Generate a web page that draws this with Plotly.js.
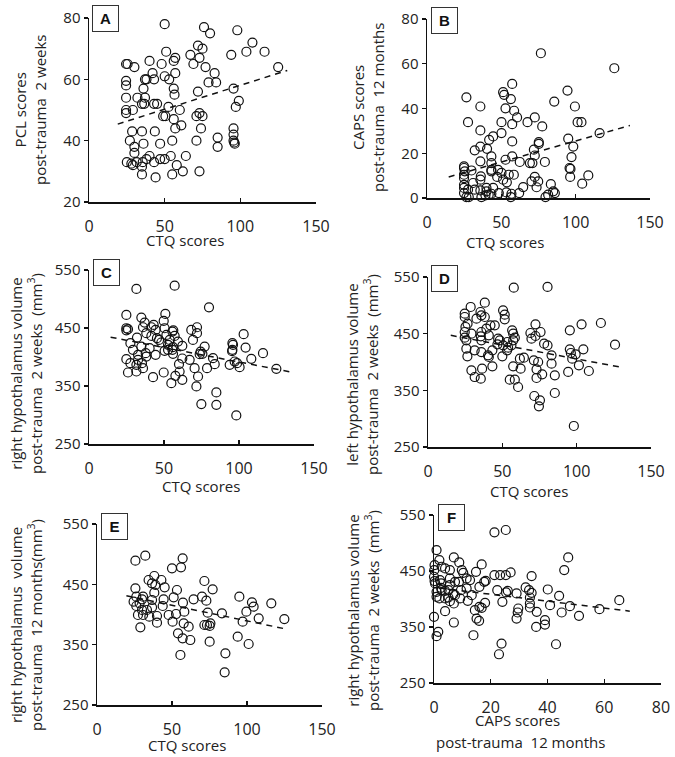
<!DOCTYPE html>
<html>
<head>
<meta charset="utf-8">
<script src="https://cdn.plot.ly/plotly-3.0.1.min.js"></script>
<style>
  body { margin: 0; background: #fff; }
  #myDiv { width: 675px; height: 757px; }
</style>
</head>
<body>
<div id="myDiv"></div>
<script>
// A: CTQ vs PCL
var aX = [50,76,80,98,108,104,116,94,125,72,75,67,69,73,51,57,56,48,40,30,24.5,25.5,77,83,42,50,57,53,38,37,43,79,84,24.5,24.5,36,56,56.5,72,95.5,99,97,24.5,32,37,35,36.5,43,45,52.5,60,24.5,29,24.5,49,50.5,56,71,73,75,61,57,74,95.5,95.5,28.5,35,43.5,95.5,96,96.3,85,85,27,36,47,55,71,30,30,25,28,29,31.5,35.5,38,40,43,47,50,54,64,58,35,35,44,55,62,73];
var aY = [78,77,75,76,72,69,69,68,64,71,70,68,65,67,69,67,66,65,66,64,65,65,64,62,62,61,62,60,60,60,60,59,59,59.5,58,57,57,55,56,57,53,51,54,54,54,52,52,52,52,51,50,50,50,49,48,48,47,48,49,48,45,44,44,44,42,43,43,43,40,39.4,39,41,38,40,39,39,40,40,38,36,33,32.5,32,33,33,34,35,33,34,34,35,35,32,31.5,29,28,29,30,30];
var aFitX = [19, 131];
var aFitY = [45.4, 62.9];

// B: CTQ vs CAPS
var bX = [76.6,126,26.5,35.9,27.6,35.9,51.2,51.9,57.3,56.4,52.8,58.6,60.6,57.3,50.1,67.6,72.5,77.5,85.6,94.5,99.5,101.3,103.9,116.1,95,98.4,97.2,95.9,96.5,96.3,104.4,108.5,75.2,75.2,71.9,72.5,57.3,50.1,44.5,41.8,35.9,32.1,40.4,43.3,35.9,57.3,62.4,52.8,69.2,70.9,79.3,43.3,24.9,24.9,29.9,43.3,43.3,47.8,50.1,55,24.9,24.9,36.2,35.9,47.2,51.2,53.7,72.5,74.8,70.3,64.7,73.7,83.3,31,24.9,24.9,27.6,32.1,35.9,40,40,44.5,43.3,48.3,53.4,56.8,62,24.9,26.5,28.1,36.6,39.3,41.5,56.4,79.7,81.5,86,84.9,58.4,25.4];
var bY = [64.7,58,45,40.9,33.9,30.2,47.3,46.1,51,44.2,40.1,39,36,33,33.9,33.9,36,32,43.1,48,40.9,33.9,33.9,29,26.5,23,18.3,13.4,13,9.4,6.4,10.1,25,24.2,21.6,19,25.3,29,27.5,26,23,21.3,22,18.6,16.4,18.6,16.1,17.1,15.6,15.6,16.1,15.6,14.1,13.4,12.3,12.6,11.9,12.6,11.2,10.4,10.4,8.9,9.7,8.2,9.4,8.2,7,9.4,7.4,7.4,4.9,4.8,6.2,6.7,5.9,4.5,3.7,3.7,3.4,3,4.5,4.5,1.9,2.2,2.5,1.9,2.2,2.2,0.4,0.4,0.4,1.2,1.5,0.4,0.4,1.5,2.2,3,10.4,11.9];
var bFitX = [14.6, 136.5];
var bFitY = [9.4, 32.4];

// C: CTQ vs right hypothalamus, 2 weeks
var cX = [31.6,57.1,80,24.9,50.9,34.9,49.8,37.1,43.1,24.9,26,24.9,50.4,55.6,56.2,68.2,72,72,69.3,103.1,95.6,96,95.6,95.4,104.4,116,108.2,124.9,93.8,98.7,100.4,97.1,77.1,74.4,75.6,82.7,83.8,78.7,70.4,72.7,71.6,74.9,84.9,84.9,98.2,67.1,62.2,60,60.4,62.2,57.6,54.9,49.8,42.7,55.6,52.7,46.7,45.3,48.2,53.8,59.3,62.2,52.7,56,50.4,40.4,37.8,38.2,44.4,32.7,32.7,29.3,27.6,32,38.2,41.6,36,24.9,27.6,31.6,35.3,36,26,31.6,34.9,44.4,41.6,51.6,57.1,56,73.8];
var cY = [517.3,523,485.7,472.5,474.3,468,462.2,459.4,455.3,449.6,448,446,449.6,443.9,446,446.7,451.3,441,429.5,439.3,423.8,421,412.3,410,416.3,406.6,396.8,379.6,386.5,389.4,382.5,392.2,418,409.4,405.4,398,387.6,380.8,380.8,366.4,349.2,318.8,338.9,317.6,299.3,395.1,397.4,387.6,375,360.7,367.6,354.9,373.3,365.3,412.3,420.9,429.5,432.4,425,429.5,426.6,419.2,412.3,405.4,410.6,415.2,406.6,400.8,403.7,403.7,395.1,412.3,423.8,433.5,441,436.4,451.3,396.2,389.4,386.5,389.4,380.8,373.3,375,418,446.7,451.3,438.1,436.4,416.9,404.8];
var cFitX = [14.4, 135.1];
var cFitY = [434.1, 373.9];

// D: CTQ vs left hypothalamus, 2 weeks
var dX = [57.7,80.4,38.2,28.7,50.5,51.6,51.6,35.3,24.7,24.7,32.6,38.2,35.9,42,44.9,25.2,26.6,39.3,24.7,29.2,35.9,35.5,24.7,25.8,35.9,40.9,25.8,26.5,31.4,35.9,40.4,40.9,43.3,46.7,47.2,48.3,50.5,50,53.2,56.1,57.3,56.6,57.3,58.4,53.9,61.8,64.5,62.3,57.3,55,58.4,60.6,69.6,72.3,68.9,72.3,75.7,78.1,80.4,71.2,74.1,73,73,76.8,83.1,83.1,85.3,85.3,71.5,75.3,74.6,95.4,103.3,116.3,125.8,104.5,95.4,96.1,99.3,97,101.5,108.2,94.3,98.1,29.2,31.4,35.5,36.4,43.3,53.4];
var dY = [531.2,532.4,504.7,497.1,491.2,483.5,475.3,488.2,485.3,479.4,476.5,479.4,482.4,464.7,464.7,461.8,467.6,458.8,452.9,450,452.9,445.3,442.9,438.2,438.2,447.1,423.5,410,420.6,417.6,411.8,408.8,420.6,431.2,441.2,438.2,429.4,410,420.6,429.4,438.2,455.9,450,442.9,425.3,405.9,407.6,388.2,392.4,368.8,368.8,355.9,441.2,466.5,451.2,445.9,452.9,432.4,429.4,402.9,400,387.1,371.8,378.2,411.8,397.1,376.5,345.3,340,332.4,321.8,455.9,466.5,468.8,430.6,422.4,422.4,415.9,413.5,405.9,394.1,384.1,382.4,287.1,385.3,373.5,370.6,388.2,392.4,435.3];
var dFitX = [15.3, 131.4];
var dFitY = [447.1, 390];

// E: CTQ vs right hypothalamus, 12 months
var eX = [32.2,25.6,57.1,50,56,34.4,38.2,36.7,38.9,42.9,45.1,25.6,38.2,53.3,71.6,77.1,70,72.9,64.4,51.1,44.4,57.3,94.9,103.3,104.4,116.2,99.6,107.8,124.9,97.1,83.3,73.8,71.6,73.3,75.1,75.6,75.1,93.8,101.1,85.6,85.1,55.6,57.1,62.2,61.1,57.8,54,58.2,52.7,50.4,47.8,40,40,43.8,36.7,36.7,33.3,34.9,30.7,26.2,24.4,26.2,30,28.4,30,30.7,27.3,28.9];
var eY = [497.5,489.2,493.1,476.5,478.2,457.2,463.8,451.7,448.9,457.2,445,443.4,436.2,440.6,455.5,441.7,429.6,422.9,425.1,428.5,425.1,419.6,429.6,420.2,413,418.5,404.7,393.6,392.5,388.1,401.9,403,382.6,382.6,381,385.3,355,363.3,351.1,335.6,304.1,332.9,360.5,357.7,379.8,385.4,368.8,404.7,400.8,388.1,399.2,386.5,397.5,414.1,411.9,424,407.5,396.4,429.6,429.6,421.3,414.1,425.1,418.5,407.5,399.2,399.2,378.7];
var eFitX = [19.6, 127.1];
var eFitY = [431.2, 375.4];

// F: CAPS vs right hypothalamus, 2 weeks
var fX = [21.3,25.3,47.3,0.9,1.9,7,8.9,16.8,0.2,0.1,2.7,3.9,5.6,9.8,10.3,14.8,0,0.2,2.1,2.5,5.6,5.6,7.4,8.8,11.5,12.7,17.7,18.2,21.3,23.3,25.3,27,22.3,25.4,26,16,13.3,11.5,3.9,2.7,0.9,1.9,3.9,5.1,5.6,7.4,9.2,11.9,9.5,3.9,7,18,24.1,29.1,32.3,33.5,34.4,33.8,34.4,33.8,33.8,29.7,29.5,29.1,36.2,36,39.1,39.1,40.1,40.9,44.1,45,47.9,45.9,51.1,58.3,65.3,14.4,15,15.9,13.9,16,16.8,23.8,22.9,43,0,1.5,0.9,7,0.4,2.5,5.1,6.8,0.9];
var fY = [519,523.2,474.3,487.4,469.5,474.3,465.3,461.7,460.6,451.6,457.6,454.6,451.6,451.6,446.8,448.6,439.7,432,433.8,427.8,436.7,424.8,430.7,430.7,436.7,433.8,430.7,432.5,442.7,442.7,442.7,447.4,415.8,411.7,414.6,421.8,406.9,418.8,414.6,415.8,412.9,401,401,402.7,396.2,406.9,401,396.8,415.8,378.3,392,393.2,395,409.9,420.6,415.8,411.1,402.7,440.9,392,384.8,383,375.9,365.1,377.1,350.2,362.2,354.4,417,389,405.7,375.9,387.2,451.6,370,381.8,397.9,380,365.1,361,335.3,386,384.2,320.4,301.3,319.2,368.1,341.3,333.6,358,427.8,420,415.8,408.7,403.9];
var fFitX = [2, 69];
var fFitY = [419.5, 378.3];

var W = 675, H = 757;
function px(x) { return x / W; }
function py(y) { return 1 - y / H; }

var panels = [
  {x: aX, y: aY, fx: aFitX, fy: aFitY, xd: [89, 316], yd: [18, 202], xr: [0, 150], yr: [20, 80], xt: 50, yt: 20, y0: 20,
   letter: 'A', box: [105, 19],
   ytitle: 'PCL scores<br>post-trauma  2 weeks', ytPos: [30, 110],
   xtitle: 'CTQ scores', xtPos: [185, 240]},
  {x: bX, y: bY, fx: bFitX, fy: bFitY, xd: [427, 650], yd: [19, 198], xr: [0, 150], yr: [0, 80], xt: 50, yt: 20, y0: 0,
   letter: 'B', box: [444, 21],
   ytitle: 'CAPS scores<br>post-trauma  12 months', ytPos: [368, 108],
   xtitle: 'CTQ scores', xtPos: [505, 242]},
  {x: cX, y: cY, fx: cFitX, fy: cFitY, xd: [89, 314], yd: [270, 444], xr: [0, 150], yr: [250, 550], xt: 50, yt: 100, y0: 250,
   letter: 'C', box: [106, 272],
   ytitle: 'right hypothalamus volume<br>post-trauma  2 weeks  (mm<sup>3</sup>)', ytPos: [26, 374],
   xtitle: 'CTQ scores', xtPos: [201, 486]},
  {x: dX, y: dY, fx: dFitX, fy: dFitY, xd: [428, 651], yd: [277, 447], xr: [0, 150], yr: [250, 550], xt: 50, yt: 100, y0: 250,
   letter: 'D', box: [445, 278],
   ytitle: 'left hypothalamus volume<br>post-trauma  2 weeks  (mm<sup>3</sup>)', ytPos: [362, 375],
   xtitle: 'CTQ scores', xtPos: [529, 491]},
  {x: eX, y: eY, fx: eFitX, fy: eFitY, xd: [97, 322], yd: [524, 705], xr: [0, 150], yr: [250, 550], xt: 50, yt: 100, y0: 250,
   letter: 'E', box: [114, 526],
   ytitle: 'right hypothalamus  volume<br>post-trauma  12 months(mm<sup>3</sup>)', ytPos: [26, 625],
   xtitle: 'CTQ scores', xtPos: [187, 745]},
  {x: fX, y: fY, fx: fFitX, fy: fFitY, xd: [434, 661], yd: [515, 683], xr: [0, 80], yr: [250, 550], xt: 20, yt: 100, y0: 250,
   letter: 'F', box: [451, 517],
   ytitle: 'right hypothalamus volume<br>post-trauma  2 weeks  (mm<sup>3</sup>)', ytPos: [363, 611],
   xtitle: 'CAPS scores', xtPos: [517, 720]}
];

var fontFam = '"Open Sans", "Noto Sans", sans-serif';
var data = [];
var layout = {
  width: W, height: H,
  margin: {l: 0, r: 0, t: 0, b: 0},
  showlegend: false,
  paper_bgcolor: '#fff',
  plot_bgcolor: 'rgba(0,0,0,0)',
  font: {family: fontFam, size: 14, color: '#222'},
  annotations: []
};

function note(x, y, text, extra) {
  return Object.assign({
    xref: 'paper', yref: 'paper', x: px(x), y: py(y), xanchor: 'center', yanchor: 'middle',
    showarrow: false, text: text, font: {family: fontFam, size: 15, color: '#222'}
  }, extra || {});
}

panels.forEach(function (p, i) {
  var n = i + 1;
  var xa = 'x' + (n === 1 ? '' : n), ya = 'y' + (n === 1 ? '' : n);
  data.push({
    type: 'scatter', mode: 'markers', x: p.x, y: p.y, xaxis: xa, yaxis: ya,
    cliponaxis: false,
    marker: {symbol: 'circle-open', size: 9, color: '#111', line: {width: 1.2, color: '#111'}}
  });
  data.push({
    type: 'scatter', mode: 'lines', x: p.fx, y: p.fy, xaxis: xa, yaxis: ya,
    line: {color: '#111', width: 1.5, dash: '6px,5px'}
  });
  var axBase = {
    showgrid: false, zeroline: false, showline: true, linecolor: '#111', linewidth: 1.5,
    ticklen: 4, tickwidth: 1.2, tickcolor: '#111', fixedrange: true
  };
  layout['xaxis' + (n === 1 ? '' : n)] = Object.assign({}, axBase, {
    domain: [px(p.xd[0]), px(p.xd[1])], range: p.xr, dtick: p.xt, tick0: 0, anchor: ya,
    ticks: 'inside', ticklabelstandoff: 9,
    tickfont: {family: fontFam, size: 16, color: '#222'}
  });
  layout['yaxis' + (n === 1 ? '' : n)] = Object.assign({}, axBase, {
    domain: [py(p.yd[1]), py(p.yd[0])], range: p.yr, dtick: p.yt, tick0: p.y0, anchor: xa,
    ticks: 'outside',
    tickfont: {family: fontFam, size: 15, color: '#222'}
  });
  // panel letter box
  layout.annotations.push(note(p.box[0], p.box[1], '<b>' + p.letter + '</b>', {
    width: 21, height: 21, borderpad: 2, bordercolor: '#333', borderwidth: 1, bgcolor: '#fff',
    font: {family: 'Liberation Sans, Arial, sans-serif', size: 15, color: '#111'}
  }));
  layout.annotations.push(note(p.ytPos[0], p.ytPos[1], p.ytitle, {textangle: -90}));
  layout.annotations.push(note(p.xtPos[0], p.xtPos[1], p.xtitle));
});

layout.annotations.push(note(520, 742, 'post-trauma  12 months'));

Plotly.newPlot('myDiv', data, layout, {displayModeBar: false, staticPlot: true});
</script>
</body>
</html>
